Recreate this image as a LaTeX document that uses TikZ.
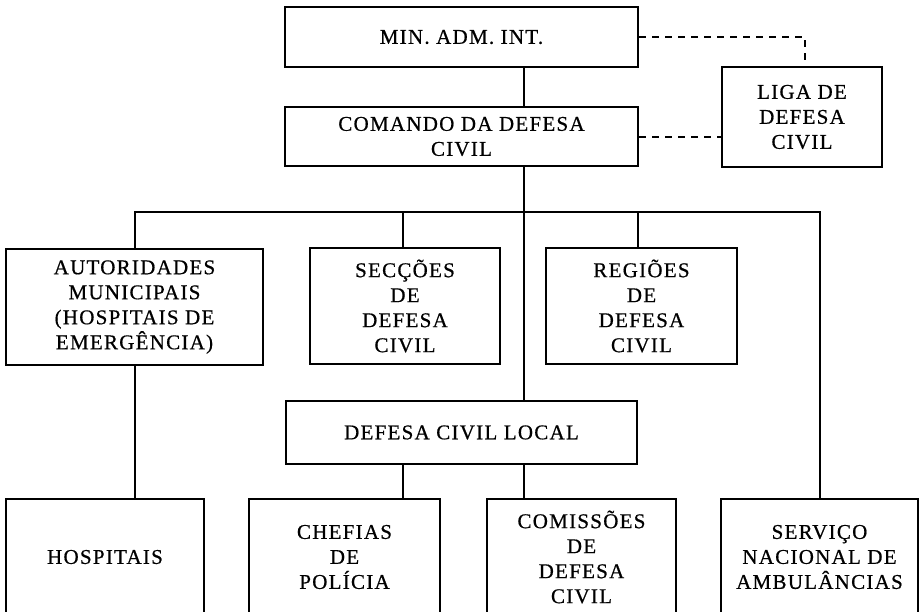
\documentclass[tikz,border=0pt]{standalone}
\usepackage{fontspec}
\setmainfont{Liberation Serif}[LetterSpace=6, FakeBold=0.6]
\begin{document}
\begin{tikzpicture}[x=1pt,y=-1pt,
  box/.style={draw, line width=2pt, align=center, inner sep=0pt,
    font=\fontsize{21}{25}\selectfont},
  link/.style={line width=2pt},
  dlink/.style={line width=2pt, dash pattern=on 7pt off 6pt}]
\useasboundingbox (0,0) rectangle (920,611);
\fill[white] (0,0) rectangle (920,611);
\clip (0,0) rectangle (920,611);
% boxes
\node[box, minimum width=353pt, minimum height=60pt] (min) at (461.5,37) {MIN. ADM. INT.};
\node[box, minimum width=353pt, minimum height=59pt] (com) at (461.5,136.5) {COMANDO DA DEFESA\\CIVIL};
\node[box, minimum width=160pt, minimum height=100pt] (liga) at (802,117) {LIGA DE\\DEFESA\\CIVIL};
\node[box, minimum width=257pt, minimum height=116pt] (aut) at (134.5,307) {AUTORIDADES\\MUNICIPAIS\\(HOSPITAIS DE\\EMERGÊNCIA)};
\node[box, minimum width=190pt, minimum height=116pt] (sec) at (405,306) {SECÇÕES\\DE\\DEFESA\\CIVIL};
\node[box, minimum width=191pt, minimum height=116pt] (reg) at (641.5,306) {REGIÕES\\DE\\DEFESA\\CIVIL};
\node[box, minimum width=351pt, minimum height=63pt] (dcl) at (461.5,432.5) {DEFESA CIVIL LOCAL};
\node[box, minimum width=198pt, minimum height=116pt] (hos) at (105,557) {HOSPITAIS};
\node[box, minimum width=191pt, minimum height=116pt] (che) at (344.5,557) {CHEFIAS\\DE\\POLÍCIA};
\node[box, minimum width=189pt, minimum height=116pt] (comi) at (581.5,557) {COMISSÕES\\DE\\DEFESA\\CIVIL};
\node[box, minimum width=197pt, minimum height=116pt] (ser) at (819.5,557) {SERVIÇO\\NACIONAL DE\\AMBULÂNCIAS};
% guide coordinates
\coordinate (cx) at (524,212);
\coordinate (busL) at (135,212);
\coordinate (busR) at (820,212);
\coordinate (bsec) at (403,212);
\coordinate (breg) at (638,212);
\coordinate (dn) at (805,37);
% solid connectors
\draw[link] (cx |- min.south) -- (cx |- com.north);
\draw[link] (cx |- com.south) -- (cx |- dcl.north);
\draw[link] (busL |- aut.north) -- (busL) -- (busR) -- (busR |- ser.north);
\draw[link] (bsec) -- (bsec |- sec.north);
\draw[link] (breg) -- (breg |- reg.north);
\draw[link] (busL |- aut.south) -- (busL |- hos.north);
\draw[link] (bsec |- dcl.south) -- (bsec |- che.north);
\draw[link] (cx |- dcl.south) -- (cx |- comi.north);
% dashed connectors
\draw[dlink] (min.east) -- (dn) -- (dn |- liga.north);
\draw[dlink] (com.east) -- (com.east -| liga.west);
\end{tikzpicture}
\end{document}
